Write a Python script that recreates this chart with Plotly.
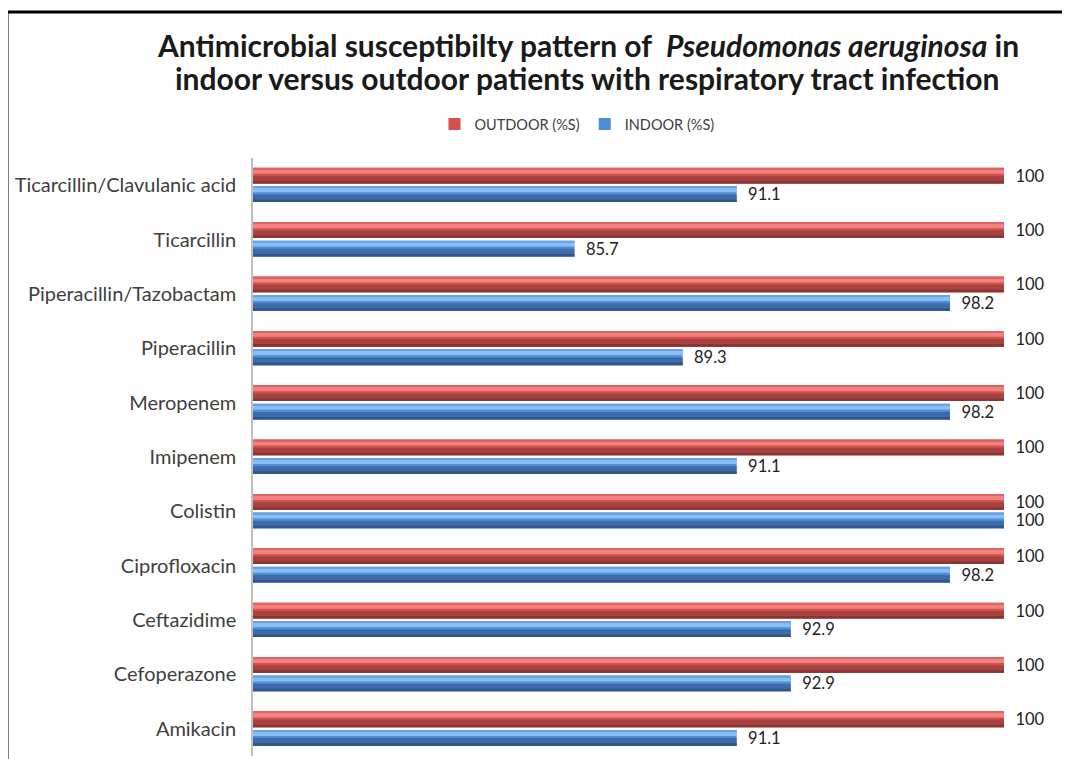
import plotly.graph_objects as go

categories = ["Amikacin", "Cefoperazone", "Ceftazidime", "Ciprofloxacin", "Colistin",
              "Imipenem", "Meropenem", "Piperacillin", "Piperacillin/Tazobactam",
              "Ticarcillin", "Ticarcillin/Clavulanic acid"]
outdoor = [100, 100, 100, 100, 100, 100, 100, 100, 100, 100, 100]
indoor = [91.1, 92.9, 92.9, 98.2, 100, 91.1, 98.2, 89.3, 98.2, 85.7, 91.1]
outdoor_labels = ["100"] * 11
indoor_labels = ["91.1", "92.9", "92.9", "98.2", "100", "91.1", "98.2", "89.3", "98.2", "85.7", "91.1"]
title_lines = ["Antimicrobial susceptibilty pattern of  <i>Pseudomonas aeruginosa</i> in",
               "indoor versus outdoor patients with respiratory tract infection"]

FONT = "Lato"
RED_MID = "#D4504D"
BLUE_MID = "#4F8DD6"
# shading bands (from-bottom fraction, to fraction, colour) to mimic the 3-D cylinder look
RED_BANDS = [(0.0, 0.48, "#A6423F"), (0.0, 0.16, "#8A3532"),
             (0.62, 0.90, "#F2827F"), (0.90, 1.0, "#DE6461")]
BLUE_BANDS = [(0.0, 0.48, "#3C6BA8"), (0.0, 0.16, "#2F558A"),
              (0.62, 0.90, "#88BEF2"), (0.90, 1.0, "#69A2E2")]

# bar geometry along the category axis (offset, width) in category units
RED_OFF, BLUE_OFF, BW = 0.03, -0.31, 0.29

fig = go.Figure()

def add_series(name, values, labels, off, mid, bands):
    fig.add_trace(go.Bar(
        name=name, y=categories, x=values, orientation="h",
        offset=off, width=BW,
        marker=dict(color=mid, line=dict(width=0)),
        text=["  " + t for t in labels], textposition="outside",
        textfont=dict(family=FONT, size=16.5, color="#222222"),
        constraintext="none", cliponaxis=False, hoverinfo="skip",
    ))
    for f0, f1, col in bands:
        fig.add_trace(go.Bar(
            y=categories, x=values, orientation="h",
            offset=off + BW * f0, width=BW * (f1 - f0),
            marker=dict(color=col, line=dict(width=0)),
            showlegend=False, hoverinfo="skip",
        ))

add_series("OUTDOOR (%S)", outdoor, outdoor_labels, RED_OFF, RED_MID, RED_BANDS)
add_series("INDOOR (%S)", indoor, indoor_labels, BLUE_OFF, BLUE_MID, BLUE_BANDS)

# page has an 8px body margin, so the figure is 8px smaller than the window
PX_L, PX_T = 253, 158   # plot-area left/top in page px
PW, PH = 751, 598       # plot-area size in px

def px_x(x):
    return (x - PX_L) / PW

def px_y(y):
    return 1 + (PX_T - y) / PH

annotations = [
    dict(text=title_lines[0], x=px_x(588), y=px_y(45), xref="paper", yref="paper",
         xanchor="center", yanchor="middle", showarrow=False,
         font=dict(family=FONT, size=30, color="#1a1a1a", weight="bold")),
    dict(text=title_lines[1], x=px_x(587), y=px_y(78), xref="paper", yref="paper",
         xanchor="center", yanchor="middle", showarrow=False,
         font=dict(family=FONT, size=30, color="#1a1a1a", weight="bold")),
]

fig.update_layout(
    width=1062, height=751,
    barmode="overlay",
    paper_bgcolor="white", plot_bgcolor="white",
    margin=dict(l=245, r=66, t=150, b=3),
    annotations=annotations,
    legend=dict(
        orientation="h", x=px_x(577), xanchor="center", y=px_y(124), yanchor="middle",
        font=dict(family=FONT, size=14.5, color="#404040"),
        bgcolor="rgba(0,0,0,0)",
    ),
    xaxis=dict(range=[75, 100], visible=False, fixedrange=True),
    yaxis=dict(
        type="category", categoryorder="array", categoryarray=categories,
        range=[-0.5, 10.5],
        showline=True, linecolor="#BFBFBF", linewidth=1.5,
        showgrid=False, zeroline=False, ticks="",
        ticklabelstandoff=11,
        tickfont=dict(family=FONT, size=20, color="#404040"),
    ),
    shapes=[
        dict(type="line", xref="paper", yref="paper",
             x0=px_x(7), x1=px_x(7), y0=px_y(12), y1=px_y(770),
             line=dict(color="black", width=3)),
        dict(type="line", xref="paper", yref="paper",
             x0=px_x(7), x1=px_x(1080), y0=px_y(12), y1=px_y(12),
             line=dict(color="black", width=3)),
    ],
)

fig.write_html("out.html")
